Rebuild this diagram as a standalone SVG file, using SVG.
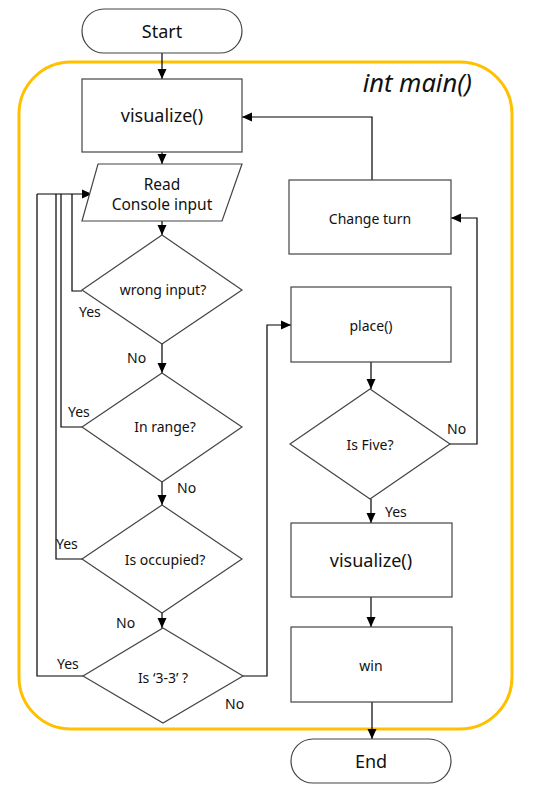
<svg xmlns="http://www.w3.org/2000/svg" width="550" height="789" viewBox="0 0 550 789">
<defs>
<marker id="arr" markerUnits="userSpaceOnUse" markerWidth="10" markerHeight="10" refX="10" refY="5" orient="auto">
<path d="M0,0.5 L10,5 L0,9.5 z" fill="#000"/>
</marker>
<style>
.n{fill:#fff;stroke:#444;stroke-width:1.2}
.t{font-family:"Noto Sans","Open Sans","DejaVu Sans",sans-serif;fill:#111;text-anchor:middle;dominant-baseline:central}
.big{font-size:18px}
.mid{font-size:15.5px}
.sm{font-size:14px}
.lbl{font-family:"Noto Sans","Open Sans","DejaVu Sans",sans-serif;font-size:14px;fill:#111;dominant-baseline:central}
.c{fill:none;stroke:#000;stroke-width:1.2}
.ca{fill:none;stroke:#000;stroke-width:1.2;marker-end:url(#arr)}
</style>
</defs>
<rect width="550" height="789" fill="#fff"/>
<g id="main-frame">
<rect x="19" y="62" width="493" height="667" rx="52" ry="52" fill="none" stroke="#FFC000" stroke-width="3"/>
<text x="472" y="92" font-family="'Noto Sans','Open Sans',sans-serif" font-size="25.5" font-style="italic" text-anchor="end" fill="#111">int main()</text>
</g>
<g id="connectors">
<path class="ca" d="M162,53 L162,79"/>
<path class="ca" d="M162,152 L162,164"/>
<path class="ca" d="M162,221 L162,235"/>
<path class="ca" d="M162,344 L162,373"/>
<path class="ca" d="M162,482 L162,505"/>
<path class="ca" d="M162,613 L162,628"/>
<path class="c" d="M82,291 L72,291 L72,194"/>
<path class="c" d="M82,427 L61,427 L61,194"/>
<path class="c" d="M82,559 L56,559 L56,194"/>
<path class="c" d="M83,676 L37,676 L37,194"/>
<path class="ca" d="M37,194 L92,194"/>
<path class="ca" d="M243,676 L267,676 L267,325 L291,325"/>
<path class="ca" d="M372,180 L372,117 L242,117"/>
<path class="ca" d="M371,362 L371,389"/>
<path class="ca" d="M450,444 L477,444 L477,218 L451,218"/>
<path class="ca" d="M371,499 L371,523"/>
<path class="ca" d="M371,597 L371,627"/>
<path class="ca" d="M372,702 L372,739"/>
</g>
<g id="start">
<rect class="n" x="82" y="9" width="160" height="44" rx="22" ry="22"/>
<text class="t big" x="162" y="31">Start</text>
</g>
<g id="visualize1">
<rect class="n" x="82" y="79" width="160" height="73"/>
<text class="t big" x="162" y="115">visualize()</text>
</g>
<g id="read-input">
<polygon class="n" points="98,164 242,164 222,221 82,221"/>
<text class="t mid" x="162" y="184">Read</text>
<text class="t mid" x="162" y="204">Console input</text>
</g>
<g id="wrong-input">
<polygon class="n" points="162,235 242,290 162,344 82,290"/>
<text class="t sm" x="163" y="289">wrong input?</text>
</g>
<g id="in-range">
<polygon class="n" points="162,373 242,427 162,482 82,427"/>
<text class="t sm" x="165" y="426">In range?</text>
</g>
<g id="is-occupied">
<polygon class="n" points="162,505 242,559 162,613 82,559"/>
<text class="t sm" x="165" y="559">Is occupied?</text>
</g>
<g id="is-33">
<polygon class="n" points="163,628 243,676 163,723 83,676"/>
<text class="t sm" x="163" y="677">Is ‘3-3’ ?</text>
</g>
<g id="change-turn">
<rect class="n" x="289" y="180" width="162" height="74"/>
<text class="t sm" x="370" y="218">Change turn</text>
</g>
<g id="place">
<rect class="n" x="291" y="287" width="160" height="75"/>
<text class="t sm" x="371" y="325">place()</text>
</g>
<g id="is-five">
<polygon class="n" points="370,389 450,444 370,499 290,444"/>
<text class="t sm" x="370" y="444">Is Five?</text>
</g>
<g id="visualize2">
<rect class="n" x="291" y="523" width="161" height="74"/>
<text class="t big" x="371" y="560">visualize()</text>
</g>
<g id="win">
<rect class="n" x="291" y="627" width="161" height="75"/>
<text class="t sm" x="371" y="665">win</text>
</g>
<g id="end">
<rect class="n" x="291" y="739" width="160" height="44" rx="22" ry="22"/>
<text class="t big" x="371" y="761">End</text>
</g>
<g id="labels">
<text class="lbl" x="79" y="311">Yes</text>
<text class="lbl" x="127" y="357">No</text>
<text class="lbl" x="68" y="411">Yes</text>
<text class="lbl" x="177" y="487">No</text>
<text class="lbl" x="56" y="543">Yes</text>
<text class="lbl" x="116" y="622">No</text>
<text class="lbl" x="57" y="663">Yes</text>
<text class="lbl" x="225" y="703">No</text>
<text class="lbl" x="447" y="428">No</text>
<text class="lbl" x="385" y="511">Yes</text>
</g>
</svg>
